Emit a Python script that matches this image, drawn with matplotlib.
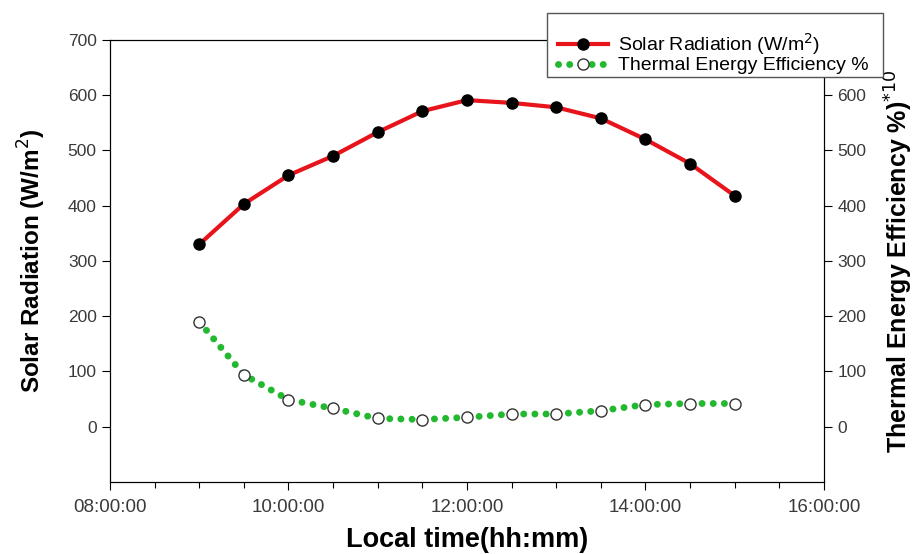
import numpy as np
import matplotlib.pyplot as plt
from matplotlib.ticker import MultipleLocator, FuncFormatter
from matplotlib.patches import Rectangle

plt.rcParams['font.family'] = ['Liberation Sans', 'DejaVu Sans']

# time in hours of the day
hours = [9.0, 9.5, 10.0, 10.5, 11.0, 11.5, 12.0, 12.5, 13.0, 13.5, 14.0, 14.5, 15.0]
solar = [330, 403, 455, 490, 533, 571, 591, 586, 578, 558, 520, 476, 418]
efficiency = [190, 94, 49, 33, 15, 13, 17, 23, 23, 29, 40, 42, 42]

fig = plt.figure(figsize=(9.15, 5.54), dpi=100)
ax = fig.add_axes([0.1202, 0.13, 0.7803, 0.798])

l1, = ax.plot(hours, solar, '-', color='#e8141c', lw=3, marker='o',
              ms=8, mfc='black', mec='black', label='Solar Radiation (W/m$^2$)', zorder=3)

ax2 = ax.twinx()
l2, = ax2.plot(hours, efficiency, color='#22b830', lw=5, linestyle=(0, (0.01, 1.6)),
               dash_capstyle='round', marker='o', ms=8, mfc='white', mec='#333333',
               mew=1, label='Thermal Energy Efficiency %', zorder=3)

ax.set_xlim(8, 16)
ax.set_ylim(-100, 700)
ax2.set_ylim(-100, 700)
ax.set_yticks(range(0, 701, 100))
ax2.set_yticks(range(0, 601, 100))

ax.xaxis.set_major_locator(MultipleLocator(2))
ax.xaxis.set_minor_locator(MultipleLocator(0.5))
ax.xaxis.set_major_formatter(FuncFormatter(lambda v, p: '%02d:00:00' % int(v)))

for a in (ax, ax2):
    a.tick_params(labelsize=12.5, labelcolor='#3a3a3a', length=6, width=0.8)
    a.tick_params(which='minor', length=4, width=0.8)
ax.tick_params(axis='x', labelsize=13.5, pad=6)

ax.set_xlabel('Local time(hh:mm)', fontsize=19.5, fontweight='bold', labelpad=8)
ax.set_ylabel('Solar Radiation (W/m$^2$)', fontsize=17.5, fontweight='bold', labelpad=14)
ax2.set_ylabel('Thermal Energy Efficiency %)$^{*10}$', fontsize=18, fontweight='bold', labelpad=12)

# legend box (wider than its contents, as in the original)
fig.patches.append(Rectangle((0.5978, 0.861), 0.3672, 0.1155, transform=fig.transFigure,
                             fill=True, facecolor='white', edgecolor='#555555', lw=1, zorder=5))
leg = fig.legend(handles=[l1, l2], loc='center left', bbox_to_anchor=(0.599, 0.905),
                 fontsize=14, frameon=False, handlelength=2.6, handletextpad=0.5,
                 borderpad=0, labelspacing=0.0)
leg.set_zorder(6)

fig.savefig('out.png', dpi=100)
